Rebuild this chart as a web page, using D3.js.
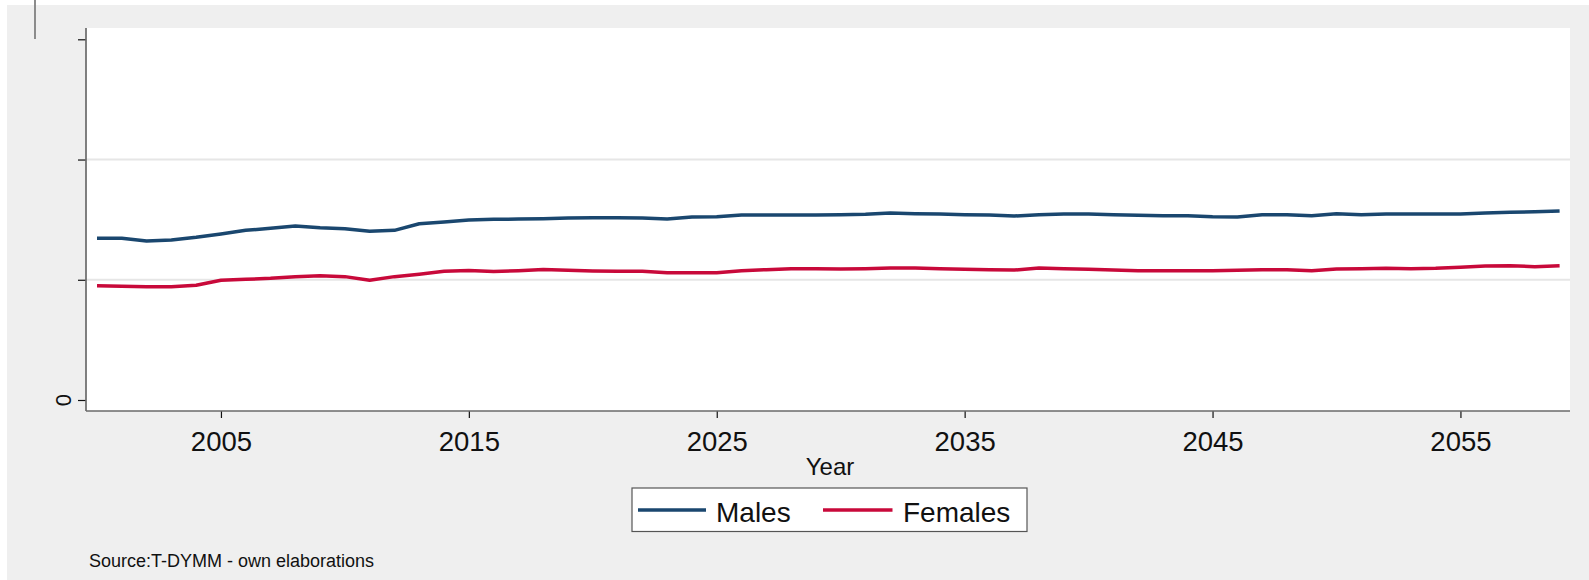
<!DOCTYPE html>
<html>
<head>
<meta charset="utf-8">
<script src="https://cdn.jsdelivr.net/npm/d3@7"></script>
<style>
  html, body { margin: 0; padding: 0; background: #ffffff; }
  svg { display: block; font-family: Arial, "Liberation Sans", sans-serif; }
</style>
</head>
<body>
<svg id="chart" width="1589" height="580"></svg>
<script>
// ---- data ----
const years = d3.range(2000, 2060);
const males = [1.345,1.345,1.322,1.331,1.353,1.381,1.411,1.428,1.447,1.433,
               1.425,1.403,1.411,1.466,1.480,1.497,1.503,1.505,1.508,1.514,
               1.516,1.516,1.514,1.505,1.522,1.525,1.539,1.539,1.539,1.539,
               1.541,1.545,1.555,1.550,1.547,1.541,1.539,1.530,1.541,1.547,
               1.547,1.541,1.536,1.533,1.533,1.525,1.522,1.541,1.541,1.533,
               1.550,1.541,1.547,1.547,1.547,1.547,1.555,1.561,1.566,1.572];
const females = [0.951,0.946,0.942,0.942,0.954,0.996,1.004,1.012,1.026,1.034,
                 1.026,0.996,1.026,1.046,1.070,1.077,1.069,1.075,1.085,1.079,
                 1.073,1.070,1.070,1.059,1.059,1.059,1.075,1.084,1.092,1.092,
                 1.090,1.092,1.098,1.098,1.092,1.087,1.084,1.081,1.098,1.092,
                 1.087,1.081,1.075,1.075,1.075,1.075,1.079,1.084,1.084,1.075,
                 1.090,1.092,1.095,1.092,1.095,1.104,1.114,1.117,1.109,1.117];
const seriesNames = ["Males", "Females"];
const seriesColors = ["#1a476f", "#c8093a"];
const xTickValues = [2005, 2015, 2025, 2035, 2045, 2055];
const yTickValues = [0, 1, 2, 3];
const yTickLabels = ["0", "", "", ""];
const xTitle = "Year";
const sourceNote = "Source:T-DYMM - own elaborations";

// ---- layout ----
const svg = d3.select("#chart");
const plot = { left: 86, right: 1570, top: 28, bottom: 411 };

// outer gray graph region
svg.append("rect").attr("x", 7).attr("y", 5).attr("width", 1589 - 7).attr("height", 580 - 5)
  .attr("fill", "#efefef");
// stray mark at top-left
svg.append("line").attr("x1", 35).attr("x2", 35).attr("y1", 0).attr("y2", 39)
  .attr("stroke", "#808080").attr("stroke-width", 1.8);

// plot region
svg.append("rect").attr("x", plot.left).attr("y", plot.top)
  .attr("width", plot.right - plot.left).attr("height", plot.bottom - plot.top)
  .attr("fill", "#ffffff");

const x = d3.scaleLinear().domain([2000, 2059]).range([97, 1559.6]);
const y = d3.scaleLinear().domain([0, 3]).range([400, 39.3]);

// gridlines (interior ticks only)
svg.append("g").selectAll("line").data(yTickValues.slice(1, -1)).join("line")
  .attr("x1", plot.left).attr("x2", plot.right)
  .attr("y1", d => y(d)).attr("y2", d => y(d))
  .attr("stroke", "#e6e6e6").attr("stroke-width", 2);

// y axis
const yAxis = svg.append("g").attr("transform", `translate(${plot.left},0)`)
  .call(d3.axisLeft(y).tickValues(yTickValues).tickSize(8).tickSizeOuter(0)
        .tickFormat((d, i) => yTickLabels[i]));
yAxis.select(".domain").remove();
yAxis.selectAll(".tick line").attr("stroke", "#111").attr("stroke-width", 1.2);
yAxis.selectAll(".tick text").remove();
svg.append("g").selectAll("text").data(yTickValues).join("text")
  .attr("transform", d => `translate(71,${y(d)}) rotate(-90)`)
  .attr("text-anchor", "middle")
  .attr("font-size", 22).attr("fill", "#111")
  .text((d, i) => yTickLabels[i]);
svg.append("line").attr("x1", plot.left).attr("x2", plot.left)
  .attr("y1", plot.top).attr("y2", plot.bottom)
  .attr("stroke", "#6a6a6a").attr("stroke-width", 1.7);

// x axis
const xAxis = svg.append("g").attr("transform", `translate(0,${plot.bottom})`)
  .call(d3.axisBottom(x).tickValues(xTickValues).tickSize(7).tickSizeOuter(0)
        .tickFormat(d3.format("d")));
xAxis.select(".domain").remove();
xAxis.selectAll(".tick line").attr("stroke", "#111").attr("stroke-width", 1.2);
xAxis.selectAll(".tick text").attr("font-size", 27.5).attr("fill", "#111")
  .attr("y", 0).attr("dy", null).attr("transform", "translate(0,40)")
  .attr("font-family", "Arial, 'Liberation Sans', sans-serif");
svg.append("line").attr("x1", plot.left).attr("x2", plot.right)
  .attr("y1", plot.bottom).attr("y2", plot.bottom)
  .attr("stroke", "#6a6a6a").attr("stroke-width", 1.7);

svg.append("text").attr("x", 830).attr("y", 475).attr("text-anchor", "middle")
  .attr("font-size", 24).attr("fill", "#111").text(xTitle);

// lines
const line = d3.line().x((d, i) => x(years[i])).y(d => y(d));
[males, females].forEach((s, k) => {
  svg.append("path").datum(s).attr("d", line)
    .attr("fill", "none").attr("stroke", seriesColors[k])
    .attr("stroke-width", 3.5).attr("stroke-linejoin", "round");
});

// legend
const lg = svg.append("g");
lg.append("rect").attr("x", 632).attr("y", 488).attr("width", 395).attr("height", 43.5)
  .attr("fill", "#ffffff").attr("stroke", "#555").attr("stroke-width", 1.2);
const legendItems = [
  { x1: 638, x2: 706, tx: 716 },
  { x1: 823, x2: 892.5, tx: 903 }
];
legendItems.forEach((it, k) => {
  lg.append("line").attr("x1", it.x1).attr("x2", it.x2).attr("y1", 510).attr("y2", 510)
    .attr("stroke", seriesColors[k]).attr("stroke-width", 3.5);
  lg.append("text").attr("x", it.tx).attr("y", 521.5).attr("font-size", 28)
    .attr("fill", "#111").text(seriesNames[k]);
});

// source note
svg.append("text").attr("x", 89).attr("y", 567).attr("font-size", 18)
  .attr("fill", "#111").text(sourceNote);
</script>
</body>
</html>
